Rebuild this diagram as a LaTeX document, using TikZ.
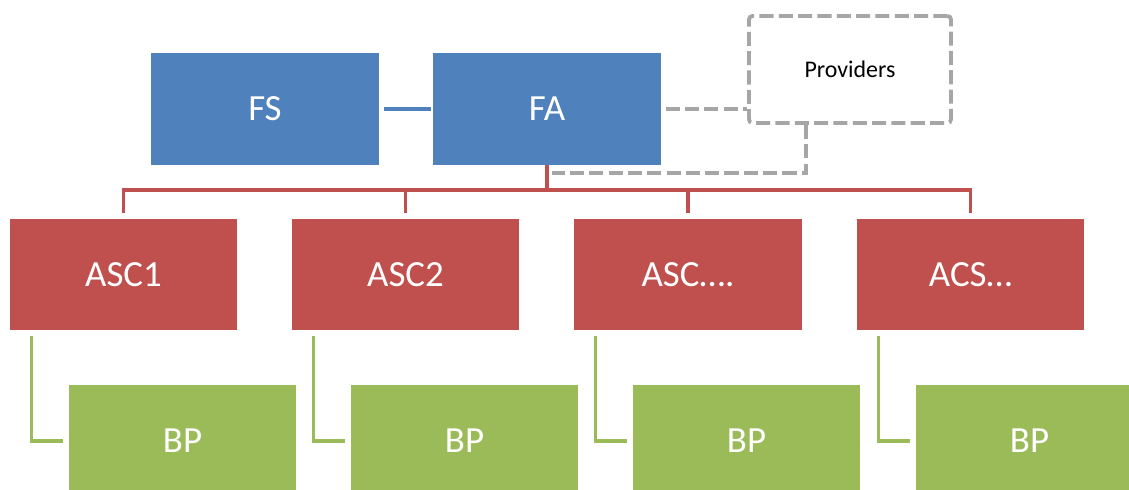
\documentclass[tikz,border=0pt]{standalone}
\usepackage{fontspec}
\setmainfont{Carlito}
\usetikzlibrary{calc}
\definecolor{boxblue}{HTML}{4F81BD}
\definecolor{boxred}{HTML}{C0504D}
\definecolor{boxgreen}{HTML}{9BBB59}
\definecolor{dashgray}{HTML}{A6A6A6}
\tikzset{
  unitbox/.style={minimum width=4.56cm,minimum height=2.24cm,inner sep=0,
    text=white,font=\fontsize{21}{25}\selectfont},
  bluebox/.style={unitbox,fill=boxblue},
  redbox/.style={unitbox,fill=boxred},
  greenbox/.style={unitbox,fill=boxgreen},
  provbox/.style={draw=dashgray,line width=2.2pt,dash pattern=on 8pt off 3pt,
    rounded corners=2pt,minimum width=4.04cm,minimum height=2.14cm,
    font=\fontsize{13.6}{16}\selectfont},
  treered/.style={boxred,line width=1.8pt},
  treegreen/.style={boxgreen,line width=1.8pt},
  dashlink/.style={dashgray,line width=2.2pt,dash pattern=on 8pt off 3pt}
}

\begin{document}
\begin{tikzpicture}[x=0.02cm,y=-0.02cm]
  \clip (0,0) rectangle (1129,490);

  % TOP ROW
  \node[bluebox] (FS) at (265,109) {FS};
  \node[bluebox] (FA) at (547,109) {FA};
  \node[provbox] (P) at (850,69.5) {Providers};

  % ASC ROW AND BP ROW
  \node[redbox] (A1) at (123.5,274.5) {ASC1};
  \node[redbox] (A2) at (405.5,274.5) {ASC2};
  \node[redbox] (A3) at (688,274.5) {ASC….};
  \node[redbox] (A4) at (970.5,274.5) {ACS…};
  \foreach \n/\x in {1/182.5,2/464.5,3/746.5,4/1029.5}
    \node[greenbox] (B\n) at (\x,441) {BP};

  % LINKS
  \draw[boxblue,line width=1.8pt,shorten <=2.5pt,shorten >=1.2pt] (FS) -- (FA);
  \draw[dashlink,shorten <=2.5pt] (FA.east) -- (FA.east -| P.west);
  \draw[dashlink] ([xshift=1.18cm]P.south west) |- ($(FA.south)+(5,8)$);
  \coordinate (bus) at (547,190);
  \foreach \n in {1,...,4}
    \draw[treered,shorten >=2.8pt] (FA.south) -- (bus) -| (A\n.north);
  \foreach \n in {1,...,4}
    \draw[treegreen,shorten >=2.8pt] ($(A\n.south west)+(22,5)$) |- (B\n.west);
\end{tikzpicture}
\end{document}
